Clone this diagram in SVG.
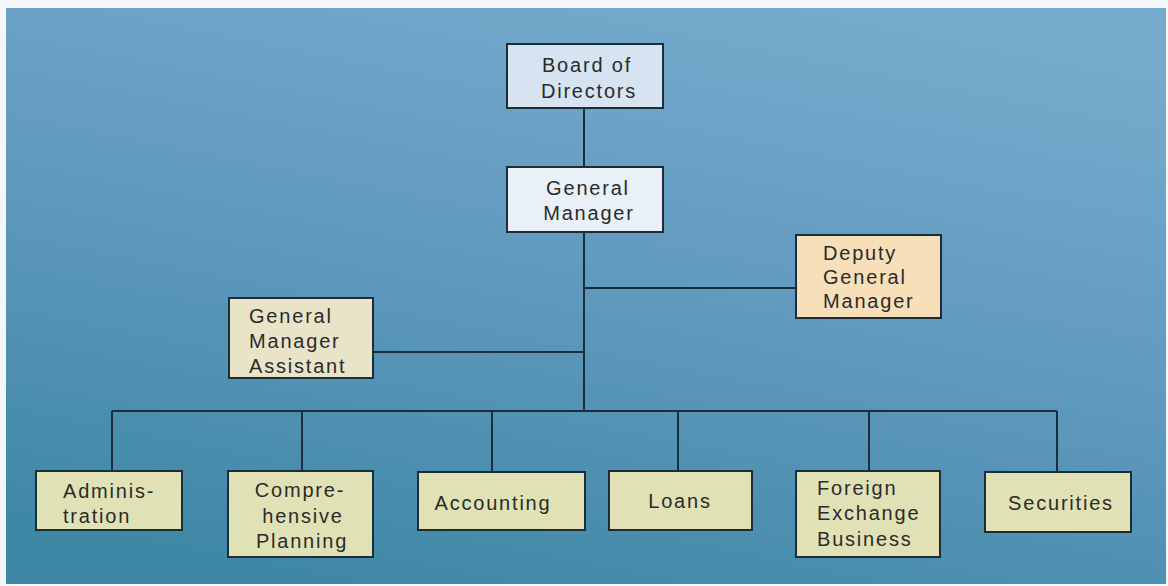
<svg xmlns="http://www.w3.org/2000/svg" width="1168" height="586" viewBox="0 0 1168 586">
<defs>
<linearGradient id="bg" x1="0.7" y1="0" x2="0.3" y2="1">
<stop offset="0" stop-color="#76aacc"/>
<stop offset="0.5" stop-color="#5f99be"/>
<stop offset="1" stop-color="#3f88a5"/>
</linearGradient>
<style>
.box{stroke:#1d2d38;stroke-width:2}
.top{fill:#d6e4f2}
.gm{fill:#e9f0f7}
.peach{fill:#f6dfb9}
.beige{fill:#e9e3c8}
.dept{fill:#e0e1b5}
.conn line{stroke:#1a2e3c;stroke-width:2}
text{font-family:"Liberation Sans",Arial,sans-serif;font-size:20px;fill:#2b2b2b;letter-spacing:1.8px}
.c{text-anchor:middle}
</style>
</defs>
<rect x="0" y="0" width="1168" height="586" fill="#f4f7f9"/>
<rect x="6" y="8" width="1160" height="576" fill="url(#bg)"/>
<g class="conn">
<line x1="584" y1="108" x2="584" y2="167"/>
<line x1="584" y1="232" x2="584" y2="411"/>
<line x1="584" y1="288" x2="796" y2="288"/>
<line x1="373" y1="352" x2="584" y2="352"/>
<line x1="112" y1="411" x2="1057" y2="411"/>
<line x1="112" y1="411" x2="112" y2="471"/>
<line x1="302" y1="411" x2="302" y2="471"/>
<line x1="492" y1="411" x2="492" y2="471"/>
<line x1="678" y1="411" x2="678" y2="471"/>
<line x1="869" y1="411" x2="869" y2="471"/>
<line x1="1057" y1="411" x2="1057" y2="471"/>
</g>
<g id="board">
<rect class="box top" x="507" y="44" width="156" height="64"/>
<text class="c" x="587" y="72">Board of</text>
<text class="c" x="589" y="98">Directors</text>
</g>
<g id="general-manager">
<rect class="box gm" x="507" y="167" width="156" height="65"/>
<text class="c" x="588" y="195">General</text>
<text class="c" x="589" y="220">Manager</text>
</g>
<g id="deputy">
<rect class="box peach" x="796" y="235" width="145" height="83"/>
<text x="823" y="260">Deputy</text>
<text x="823" y="284">General</text>
<text x="823" y="308">Manager</text>
</g>
<g id="gm-assistant">
<rect class="box beige" x="229" y="298" width="144" height="80"/>
<text x="249" y="323">General</text>
<text x="249" y="348">Manager</text>
<text x="249" y="373">Assistant</text>
</g>
<g id="administration">
<rect class="box dept" x="36" y="471" width="146" height="59"/>
<text x="63" y="498">Adminis-</text>
<text x="63" y="523">tration</text>
</g>
<g id="planning">
<rect class="box dept" x="228" y="471" width="145" height="86"/>
<text class="c" x="300" y="497">Compre-</text>
<text class="c" x="303" y="523">hensive</text>
<text class="c" x="302" y="548">Planning</text>
</g>
<g id="accounting">
<rect class="box dept" x="418" y="472" width="167" height="58"/>
<text class="c" x="493" y="510">Accounting</text>
</g>
<g id="loans">
<rect class="box dept" x="609" y="471" width="143" height="59"/>
<text class="c" x="680" y="508">Loans</text>
</g>
<g id="foreign-exchange">
<rect class="box dept" x="796" y="471" width="144" height="86"/>
<text x="817" y="495">Foreign</text>
<text x="817" y="520">Exchange</text>
<text x="817" y="546">Business</text>
</g>
<g id="securities">
<rect class="box dept" x="985" y="472" width="146" height="60"/>
<text class="c" x="1061" y="510">Securities</text>
</g>
</svg>
